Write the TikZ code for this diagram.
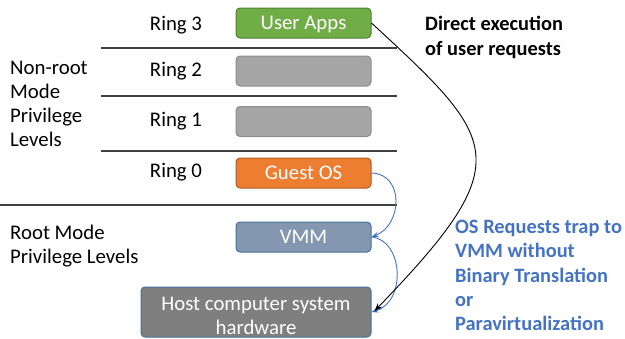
\documentclass[tikz,border=0pt]{standalone}
\usepackage{fontspec}
\setmainfont{Carlito}
\usetikzlibrary{arrows.meta}
\definecolor{appgreen}{HTML}{70AD47}
\definecolor{appgreenD}{HTML}{507E32}
\definecolor{ringgray}{HTML}{A5A5A5}
\definecolor{ringgrayD}{HTML}{8C8C8C}
\definecolor{osorange}{HTML}{ED7D31}
\definecolor{osorangeD}{HTML}{AE5A21}
\definecolor{vmmfill}{HTML}{8497B0}
\definecolor{hwfill}{HTML}{7F7F7F}
\definecolor{edgeblue}{HTML}{41719C}
\definecolor{trapblue}{HTML}{4472C4}
\definecolor{rule}{HTML}{404040}
\begin{document}
\begin{tikzpicture}[x=1pt,y=-1pt,
  every node/.style={font=\fontsize{20.8}{24}\selectfont},
  layer/.style={rounded corners=4pt, line width=1pt, minimum width=135pt,
    minimum height=30pt, inner sep=0pt, text=white, text depth=0pt},
  ringlabel/.style={anchor=center, text depth=0pt},
  sidelabel/.style={anchor=west, align=left, inner sep=0pt},
  divider/.style={draw=rule, line width=1.5pt},
  trap/.style={draw=trapblue, line width=0.9pt, -{Stealth[length=7pt,width=5pt]}},
  direct/.style={draw=black, line width=0.9pt, -{Stealth[length=8pt,width=6pt]}}
]
\useasboundingbox (0,0) rectangle (625,338);

% privilege ring layers
\node[layer, fill=appgreen, draw=appgreenD] (apps) at (303.5,23) {User Apps};
\node[layer, fill=ringgray, draw=ringgrayD] (r2) at (303.5,71) {};
\node[layer, fill=ringgray, draw=ringgrayD] (r1) at (303.5,121.5) {};
\node[layer, fill=osorange, draw=osorangeD] (guest) at (303.5,173) {Guest OS};
\node[layer, fill=vmmfill, draw=edgeblue] (vmm) at (303.5,237) {VMM};
\node[layer, fill=hwfill, draw=edgeblue, minimum width=230pt, minimum height=50pt,
  align=center] (hw) at (256,312) {\rule{0pt}{20pt}Host computer system\\hardware};

% ring names
\node[ringlabel] (l3) at (176,23) {Ring 3};
\node[ringlabel] (l2) at (176,69) {Ring 2};
\node[ringlabel] (l1) at (176,119) {Ring 1};
\node[ringlabel] (l0) at (176,170) {Ring 0};

% layer dividers
\coordinate (d1a) at (101,48);  \coordinate (d1b) at (397,48);
\coordinate (d2a) at (101,96);  \coordinate (d2b) at (397,96);
\coordinate (d3a) at (101,151); \coordinate (d3b) at (397,151);
\coordinate (d4a) at (0,205);   \coordinate (d4b) at (397,205);
\draw[divider] (d1a) -- (d1b);
\draw[divider] (d2a) -- (d2b);
\draw[divider] (d3a) -- (d3b);
\draw[divider] (d4a) -- (d4b);

% mode labels
\node[sidelabel] (nonroot) at (10,103.5) {Non-root\\Mode\\Privilege\\Levels};
\node[sidelabel] (root) at (10,246.5) {Root Mode\\Privilege Levels};

% annotations
\node[sidelabel, font=\fontsize{20.4}{24.5}\selectfont\bfseries] (direct) at (425,37.5)
  {Direct execution\\of user requests};
\node[sidelabel, text=trapblue, font=\fontsize{20.4}{24.3}\selectfont\bfseries] (trapnote) at (455,275.5)
  {OS Requests trap to\\VMM without\\Binary Translation\\or\\Paravirtualization};

% control transfer paths
\draw[trap] (guest.east) .. controls +(33,1) and +(31,-12) .. (vmm.east);
\draw[trap] (vmm.east) .. controls +(32,3) and +(35,-10) .. (hw.east);
\draw[direct] (apps.east) .. controls +(128,118) and +(145,-150) .. ([xshift=3pt,yshift=1pt]hw.east);
\end{tikzpicture}
\end{document}
